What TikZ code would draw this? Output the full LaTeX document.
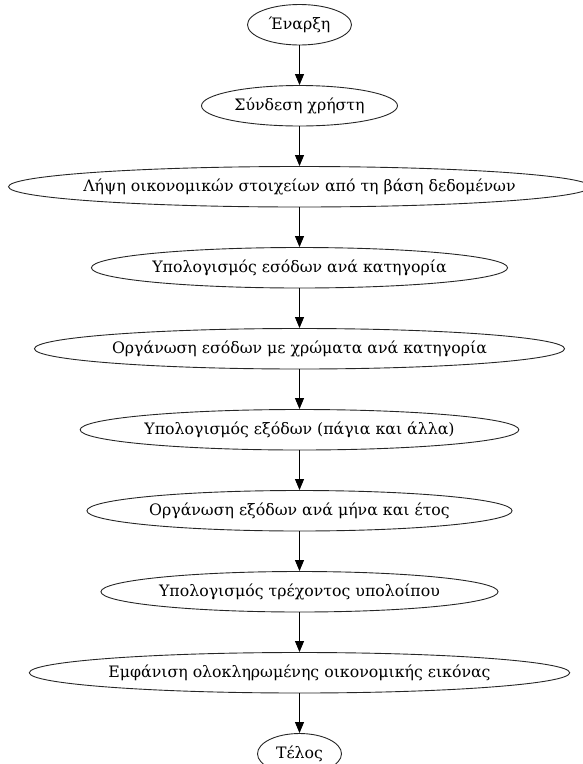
\documentclass[tikz,border=0pt]{standalone}
\usepackage{fontspec}
\setmainfont{DejaVu Serif}
\usetikzlibrary{shapes.geometric,arrows.meta}
\begin{document}
\begin{tikzpicture}[x=1pt,y=-1pt,
  stage/.style={ellipse,draw=black!85,line width=0.9pt,inner sep=0pt,
    minimum height=40.5pt,font=\fontsize{15.75}{18}\selectfont},
  flow/.style={draw=black,line width=0.9pt,-{Triangle[length=11pt,width=9pt]}}]
\useasboundingbox (0,0) rectangle (582,764);
% stages of the budget workflow, top to bottom
\node[stage,minimum width=104pt] (start)   at (299.5,24.75)  {Έναρξη};
\node[stage,minimum width=196pt] (login)   at (299.5,105.75) {Σύνδεση χρήστη};
% the long label is boxed at zero width so the ellipse keeps its set size
\node[stage,minimum width=582pt] (fetch)   at (299.5,186.75) {\makebox[0pt]{Λήψη οικονομικών στοιχείων από τη βάση δεδομένων}};
\node[stage,minimum width=404pt] (inccalc) at (299.5,267.75) {Υπολογισμός εσόδων ανά κατηγορία};
\node[stage,minimum width=505pt] (incorg)  at (299.5,348.75) {Οργάνωση εσόδων με χρώματα ανά κατηγορία};
\node[stage,minimum width=422pt] (expcalc) at (299.5,429.75) {Υπολογισμός εξόδων (πάγια και άλλα)};
\node[stage,minimum width=410pt] (exporg)  at (299.5,510.75) {Οργάνωση εξόδων ανά μήνα και έτος};
\node[stage,minimum width=384pt] (balance) at (299.5,591.75) {Υπολογισμός τρέχοντος υπολοίπου};
\node[stage,minimum width=515pt] (show)    at (299.5,672.75) {Εμφάνιση ολοκληρωμένης οικονομικής εικόνας};
\node[stage,minimum width=84pt]  (finish)  at (299.5,753.75) {Τέλος};
% connectors
\draw[flow] (start) -- (login);
\draw[flow] (login) -- (fetch);
\draw[flow] (fetch) -- (inccalc);
\draw[flow] (inccalc) -- (incorg);
\draw[flow] (incorg) -- (expcalc);
\draw[flow] (expcalc) -- (exporg);
\draw[flow] (exporg) -- (balance);
\draw[flow] (balance) -- (show);
\draw[flow] (show) -- (finish);
\end{tikzpicture}
\end{document}
